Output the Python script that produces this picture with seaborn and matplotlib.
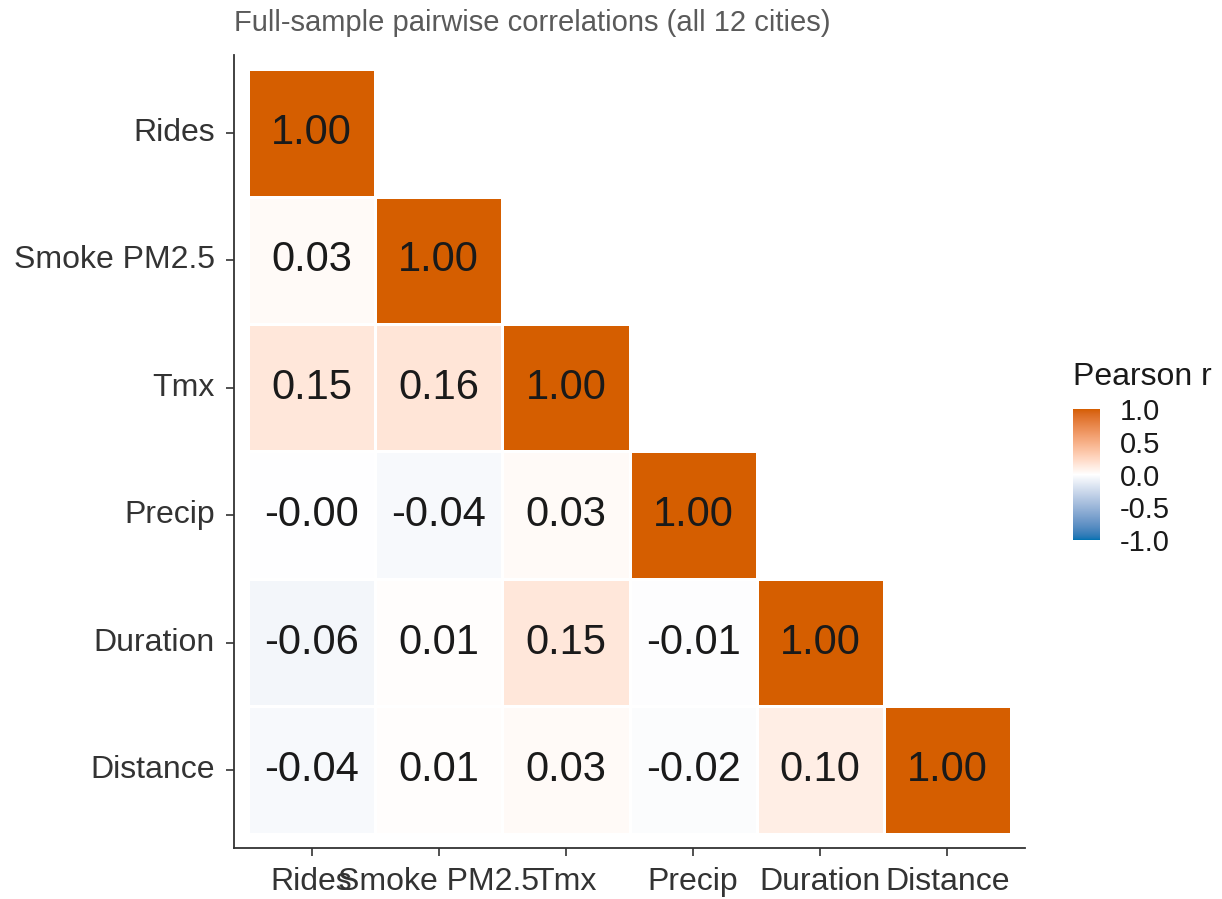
import numpy as np
import pandas as pd
import matplotlib
matplotlib.use("Agg")
import matplotlib.pyplot as plt
import seaborn as sns
from matplotlib.colors import ListedColormap

# Variables in display order (top-to-bottom rows, left-to-right columns)
variables = ["Rides", "Smoke PM2.5", "Tmx", "Precip", "Duration", "Distance"]

# Lower-triangle Pearson correlations, one list per row
row_rides = [1.00]
row_smoke = [0.03, 1.00]
row_tmx = [0.15, 0.16, 1.00]
row_precip = [-0.003, -0.04, 0.03, 1.00]
row_duration = [-0.06, 0.01, 0.15, -0.01, 1.00]
row_distance = [-0.04, 0.01, 0.03, -0.02, 0.10, 1.00]

rows = [row_rides, row_smoke, row_tmx, row_precip, row_duration, row_distance]
n = len(variables)
mat = np.full((n, n), np.nan)
for i, row in enumerate(rows):
    for j, v in enumerate(row):
        mat[i, j] = v
        mat[j, i] = v
corr = pd.DataFrame(mat, index=variables, columns=variables)
mask = np.triu(np.ones((n, n), dtype=bool), k=1)


# Diverging palette interpolated in CIE Lab space
def _srgb_to_lab(rgb):
    rgb = np.asarray(rgb, float)
    lin = np.where(rgb <= 0.04045, rgb / 12.92, ((rgb + 0.055) / 1.055) ** 2.4)
    m = np.array([[0.4124564, 0.3575761, 0.1804375],
                  [0.2126729, 0.7151522, 0.0721750],
                  [0.0193339, 0.1191920, 0.9503041]])
    xyz = lin @ m.T / np.array([0.95047, 1.0, 1.08883])
    f = np.where(xyz > 0.008856, np.cbrt(xyz), 7.787 * xyz + 16 / 116)
    return np.stack([116 * f[..., 1] - 16,
                     500 * (f[..., 0] - f[..., 1]),
                     200 * (f[..., 1] - f[..., 2])], axis=-1)


def _lab_to_srgb(lab):
    L, a, b = lab[..., 0], lab[..., 1], lab[..., 2]
    fy = (L + 16) / 116
    fx = fy + a / 500
    fz = fy - b / 200
    f = np.stack([fx, fy, fz], axis=-1)
    xyz = np.where(f ** 3 > 0.008856, f ** 3, (f - 16 / 116) / 7.787)
    xyz = xyz * np.array([0.95047, 1.0, 1.08883])
    m_inv = np.array([[3.2404542, -1.5371385, -0.4985314],
                      [-0.9692660, 1.8760108, 0.0415560],
                      [0.0556434, -0.2040259, 1.0572252]])
    lin = np.clip(xyz @ m_inv.T, 0, 1)
    return np.where(lin <= 0.0031308, 12.92 * lin, 1.055 * lin ** (1 / 2.4) - 0.055)


def _hex(h):
    h = h.lstrip("#")
    return np.array([int(h[k:k + 2], 16) / 255 for k in (0, 2, 4)])


low, mid, high = (_srgb_to_lab(_hex(c)) for c in ("#0072B2", "#FFFFFF", "#D55E00"))
t = np.linspace(0, 1, 256)[:, None]
lab = np.vstack([low + (mid - low) * t, mid + (high - mid) * t[1:]])
cmap = ListedColormap(np.clip(_lab_to_srgb(lab), 0, 1))

sns.set_theme(style="white")
plt.rcParams["font.family"] = ["Liberation Sans", "DejaVu Sans"]

fig = plt.figure(figsize=(12.22, 8.99), dpi=100)
ax = fig.add_axes([234 / 1222, 51 / 899, 791 / 1222, 793 / 899])
cax = fig.add_axes([1073 / 1222, (899 - 540) / 899, 27 / 1222, 131 / 899])

sns.heatmap(
    corr, mask=mask, cmap=cmap, vmin=-1, vmax=1,
    annot=True, fmt=".2f",
    annot_kws={"size": 30, "color": "#1a1a1a"},
    linewidths=2, linecolor="white",
    ax=ax, cbar_ax=cax,
    cbar_kws={"ticks": [-1, -0.5, 0, 0.5, 1]},
)

pad = 0.11
ax.set_xlim(-pad, n + pad)
ax.set_ylim(n + pad, -pad)
ax.set_xlabel("")
ax.set_ylabel("")
ax.set_xticks(np.arange(n) + 0.5)
ax.set_yticks(np.arange(n) + 0.5)
ax.set_xticklabels(variables, rotation=0, fontsize=23, color="#333333")
ax.set_yticklabels(variables, rotation=0, fontsize=23, color="#333333")
for side in ["left", "bottom"]:
    ax.spines[side].set_visible(True)
    ax.spines[side].set_color("#333333")
    ax.spines[side].set_linewidth(1.3)
for side in ["top", "right"]:
    ax.spines[side].set_visible(False)
ax.tick_params(axis="both", which="major", direction="out", length=6,
               width=1.2, color="#333333", pad=8, bottom=True, left=True)

# Colour bar styling
cbar = ax.collections[0].colorbar
cbar.outline.set_visible(False)
cbar.ax.set_yticklabels(["-1.0", "-0.5", "0.0", "0.5", "1.0"])
cbar.ax.tick_params(axis="y", direction="in", length=5, width=1,
                    color="white", labelsize=21, labelcolor="#1a1a1a",
                    left=True, right=True, pad=14)

fig.text(234 / 1222, 1 - 23 / 899,
         "Full-sample pairwise correlations (all 12 cities)",
         ha="left", va="center", fontsize=21, color="#5a5a5a")
fig.text(1073 / 1222, 1 - 377 / 899, "Pearson r",
         ha="left", va="center", fontsize=23, color="#1a1a1a")

fig.savefig("out.png", dpi=100)
